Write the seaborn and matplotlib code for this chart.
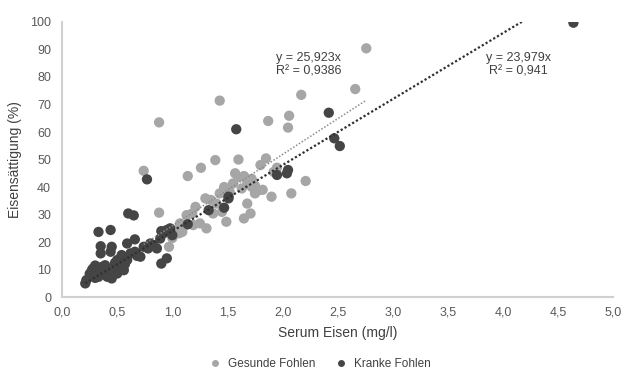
import numpy as np
import pandas as pd
import seaborn as sns
import matplotlib.pyplot as plt

# Gesunde Fohlen (light grey)
gesunde_x = [2.76, 2.66, 2.17, 1.43, 2.06, 1.87, 0.88, 2.05,
             1.85, 1.60, 1.39, 1.80, 1.26, 0.74, 1.14, 1.57, 1.65, 1.72, 1.60, 1.55,
             1.68, 1.75, 1.78, 1.72, 1.75, 1.82, 1.52, 1.43, 1.63,
             2.21, 2.08, 1.90, 1.30, 1.35, 1.68, 1.21, 1.18, 1.13, 1.37, 1.45,
             1.71, 1.65, 1.49, 1.31, 1.12, 1.19, 1.25, 1.06, 1.09, 1.04, 1.10, 1.07,
             0.88, 0.97, 1.00, 1.95, 1.92, 1.47, 1.40]
gesunde_y = [90.4, 75.6, 73.5, 71.4, 65.9, 64.0, 63.5, 61.6,
             50.4, 50.0, 49.8, 48.0, 47.0, 45.9, 44.0, 45.0, 44.0, 43.0, 43.6, 41.3,
             42.0, 40.5, 38.8, 40.1, 37.7, 39.0, 38.3, 37.7, 39.5,
             42.2, 37.7, 36.5, 35.9, 35.3, 34.0, 32.8, 30.4, 29.8, 30.4, 31.0,
             30.4, 28.6, 27.4, 25.0, 26.2, 26.2, 26.8, 23.2, 23.7, 24.4, 25.6, 26.8,
             30.7, 18.3, 21.5, 47.0, 45.5, 40.0, 34.0]

# Kranke Fohlen (dark grey)
kranke_x = [4.64, 2.42, 2.47, 2.52, 1.58, 0.77, 2.05, 2.04, 1.95, 1.51, 1.51,
            1.33, 1.14, 1.47,
            0.60, 0.65, 0.33, 0.44, 0.35, 0.35, 0.45, 0.44, 0.59, 0.66, 0.95, 0.90,
            0.21, 0.22, 0.27, 0.28, 0.31, 0.34, 0.37, 0.41, 0.44, 0.47, 0.50, 0.53,
            0.56, 0.59, 0.62, 0.66, 0.71, 0.74, 0.78, 0.83, 0.86, 0.89, 0.92, 0.95,
            0.33, 0.45, 0.50, 0.51, 0.54, 0.39, 0.28, 0.30, 0.25, 0.38, 0.48, 0.55,
            0.42, 0.36, 0.57, 0.30, 0.68, 0.80, 0.98, 0.90, 1.00]
kranke_y = [99.7, 67.0, 57.7, 54.9, 61.0, 42.8, 46.2, 45.0, 44.4, 36.5, 35.9,
            31.6, 26.5, 32.5,
            30.4, 29.7, 23.7, 24.4, 18.5, 15.9, 18.3, 16.5, 19.5, 21.0, 14.1, 12.2,
            5.0, 6.2, 9.8, 8.0, 10.4, 8.6, 9.8, 7.4, 9.2, 11.0, 13.5, 11.6,
            9.8, 13.5, 15.9, 16.5, 14.7, 18.3, 17.7, 18.9, 17.7, 21.3, 23.2, 24.4,
            7.4, 6.8, 8.6, 10.4, 15.3, 11.6, 10.4, 7.0, 8.5, 9.0, 12.5, 14.0,
            10.0, 11.0, 12.0, 11.5, 15.0, 19.5, 25.0, 24.0, 22.5]

slope_gesunde = 25.923
slope_kranke = 23.979
label_gesunde = "y = 25,923x\nR² = 0,9386"
label_kranke = "y = 23,979x\nR² = 0,941"

x_ticks = np.arange(0, 5.01, 0.5)
y_ticks = np.arange(0, 101, 10)

df = pd.DataFrame({
    "x": gesunde_x + kranke_x,
    "y": gesunde_y + kranke_y,
    "Gruppe": ["Gesunde Fohlen"] * len(gesunde_x) + ["Kranke Fohlen"] * len(kranke_x),
})

sns.set_theme(style="white")
plt.rcParams['font.family'] = ['Liberation Sans', 'DejaVu Sans']

colors = {"Gesunde Fohlen": "#a6a6a6", "Kranke Fohlen": "#454545"}
text_col = "#404040"

fig, ax = plt.subplots(figsize=(6.34, 3.71), dpi=100)
fig.subplots_adjust(left=0.098, right=0.967, top=0.941, bottom=0.199)

sns.scatterplot(data=df, x="x", y="y", hue="Gruppe", palette=colors,
                s=55, edgecolor="none", ax=ax, legend=False, zorder=2)

# trendlines through origin over the data range
xg = np.array([min(gesunde_x), max(gesunde_x)])
ax.plot(xg, slope_gesunde * xg, linestyle=(0, (1, 1.2)), color="#8c8c8c", lw=1.1, zorder=3)
xk = np.array([min(kranke_x), max(kranke_x)])
ax.plot(xk, slope_kranke * xk, linestyle=(0, (1, 1)), color="#303030", lw=1.6, zorder=3)

ax.text(1.94, 89, label_gesunde, fontsize=9, color=text_col, va="top", ha="left",
        linespacing=1.1)
ax.text(4.14, 89, label_kranke, fontsize=9, color=text_col, va="top", ha="center",
        linespacing=1.1)

ax.set_xlim(0, 5)
ax.set_ylim(0, 100)
ax.set_xticks(x_ticks)
ax.set_xticklabels([f"{v:.1f}".replace(".", ",") for v in x_ticks])
ax.set_yticks(y_ticks)
ax.tick_params(axis="both", length=0, labelsize=9, colors="#595959")
ax.tick_params(axis="x", pad=7)
ax.tick_params(axis="y", pad=8)

for side in ["top", "right"]:
    ax.spines[side].set_visible(False)
for side in ["left", "bottom"]:
    ax.spines[side].set_color("#d0d0d0")
    ax.spines[side].set_linewidth(1.5)

ax.set_xlabel("Serum Eisen (mg/l)", fontsize=10, color=text_col, labelpad=5)
ax.set_ylabel("Eisensättigung (%)", fontsize=10, color=text_col, labelpad=6)

handles = [plt.Line2D([], [], marker="o", linestyle="none", markersize=5,
                      markerfacecolor=colors[k], markeredgecolor="none", label=k)
           for k in colors]
fig.legend(handles=handles, loc="lower center", bbox_to_anchor=(0.5, -0.025), ncol=2,
           frameon=False, fontsize=8.5, handletextpad=0.1, columnspacing=1.2,
           labelcolor=text_col)

fig.savefig("out.png", dpi=100)
